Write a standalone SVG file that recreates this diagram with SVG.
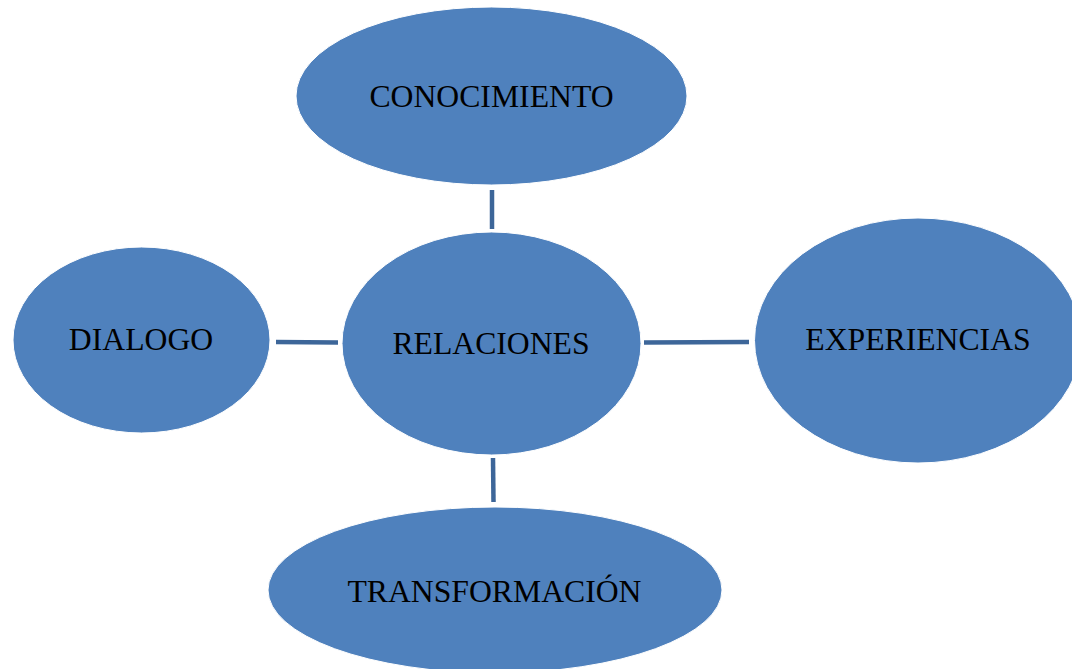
<svg xmlns="http://www.w3.org/2000/svg" width="1072" height="669" viewBox="0 0 1072 669">
<style>
.node ellipse{fill:#4f81bd;stroke:#ffffff;stroke-width:1}
.node text{font-family:"Liberation Serif","Times New Roman",serif;font-size:31.7px;fill:#000;text-anchor:middle}
.conn line{stroke:#3d6699;stroke-width:4.5;stroke-linecap:butt}
</style>
<rect width="1072" height="669" fill="#ffffff"/>
<g id="connectors" class="conn">
<line x1="492" y1="190" x2="492" y2="229"/>
<line x1="276" y1="342" x2="338" y2="342.5"/>
<line x1="644" y1="342.5" x2="749" y2="342"/>
<line x1="493" y1="458" x2="493.5" y2="502"/>
</g>
<g id="conocimiento" class="node">
<ellipse cx="491.5" cy="96" rx="195.5" ry="89"/>
<text x="491.5" y="107">CONOCIMIENTO</text>
</g>
<g id="relaciones" class="node">
<ellipse cx="491.5" cy="343.5" rx="149.5" ry="111.5"/>
<text x="491" y="354">RELACIONES</text>
</g>
<g id="dialogo" class="node">
<ellipse cx="141.5" cy="340" rx="128.5" ry="93"/>
<text x="141" y="350">DIALOGO</text>
</g>
<g id="experiencias" class="node">
<ellipse cx="918" cy="340.5" rx="163.5" ry="122.5"/>
<text x="918" y="350">EXPERIENCIAS</text>
</g>
<g id="transformacion" class="node">
<ellipse cx="495" cy="590" rx="227" ry="83"/>
<text x="494.5" y="602">TRANSFORMACIÓN</text>
</g>
</svg>
